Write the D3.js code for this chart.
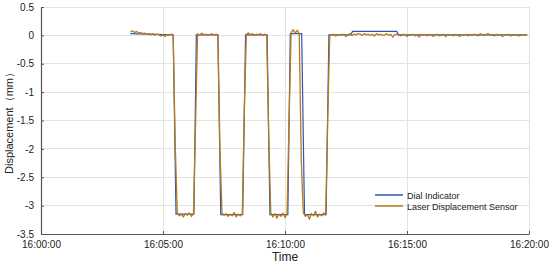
<!DOCTYPE html>
<html><head><meta charset="utf-8">
<script src="https://cdn.jsdelivr.net/npm/d3@7"></script>
<style>body{margin:0;background:#fff}svg{display:block}text{font-family:"Liberation Sans",Arial,sans-serif}</style>
</head><body><svg id="c" width="550" height="264"></svg>
<script>
// Time in seconds after 16:00:00
const xTickLabels = ["16:00:00","16:05:00","16:10:00","16:15:00","16:20:00"];
const xTickSeconds = [0,300,600,900,1200];
const yTicks = [0.5,0,-0.5,-1,-1.5,-2,-2.5,-3,-3.5];
const yTickLabels = ["0.5","0","-0.5","-1","-1.5","-2","-2.5","-3","-3.5"];
const seriesNames = ["Dial Indicator","Laser Displacement Sensor"];
const seriesColors = ["#2f55b4","#b67a1a"];

// Laser sensor: samples every 5 s starting at 16:03:40 (220 s)
const laserStart = 220, laserStep = 5;
const laserValues = [
 0.06,0.08,0.05,0.07,0.04,0.05,0.03,0.04,0.02,0.03,
 0.01,0.03,0.00,0.02,0.01,-0.01,0.01,-0.02,0.01,0.00,
 0.02,0.01,-1.9,-3.12,-3.18,-3.15,-3.20,-3.14,-3.17,-3.13,
 -3.19,-3.14,-1.6,0.03,0.00,0.04,0.01,0.02,0.00,0.01,
 0.03,0.00,0.02,0.01,-2.0,-3.13,-3.17,-3.14,-3.19,-3.15,
 -3.18,-3.12,-3.20,-3.15,-3.18,-3.14,-1.3,0.02,0.04,0.01,
 0.03,0.00,0.02,0.01,0.03,0.00,0.02,0.01,-1.8,-3.12,
 -3.20,-3.14,-3.22,-3.15,-3.19,-3.13,-3.21,-3.15,-1.5,0.05,
 0.10,0.04,0.09,0.03,-2.2,-3.12,-3.19,-3.15,-3.24,-3.14,
 -3.18,-3.10,-3.20,-3.15,-3.18,-3.13,-3.16,-1.5,
 0.01,0.00,0.02,-0.01,0.01,0.00,0.02,0.01,-0.02,0.01,
 0.03,0.00,0.02,0.01,0.03,0.02,0.00,0.03,0.01,0.02,
 0.00,0.02,-0.01,0.03,0.01,0.02,0.00,0.01,0.03,0.00,
 0.02,-0.03,0.01,0.02,0.00,-0.01,0.02,0.01,-0.02,0.01,
 0.00,0.02,-0.01,0.01,-0.03,0.02,0.00,0.01,-0.01,0.02,
 0.00,-0.02,0.01,0.02,-0.01,0.00,0.02,-0.02,0.01,0.00,
 0.01,-0.01,0.02,0.00,-0.02,0.01,0.00,0.02,-0.01,0.01,
 0.00,0.02,0.01,-0.01,0.03,0.01,0.00,0.02,0.03,0.00,
 0.01,-0.01,0.02,0.00,0.01,-0.02,0.01,0.00,0.02,-0.01,
 0.01,0.00,0.01,-0.01,0.00,0.01,0.00,0.01
];

// Dial indicator: breakpoints (seconds after 16:00:00, mm)
const dialTimes  = [220,325,332,376,382,435,442,496,503,556,563,607,613,641,648,701,708,762,766,875,879,1196];
const dialValues = [0.03,0.01,-3.15,-3.15,0.01,0.01,-3.16,-3.16,0.01,0.01,-3.16,-3.16,0.03,0.03,-3.16,-3.16,0.01,0.01,0.07,0.07,0.01,0.01];

const svg = d3.select("#c");
const m = {l:41, r:21, t:7, b:30};
const W = 550, H = 264;
const x = d3.scaleLinear().domain([0,1200]).range([m.l, W-m.r]);
const y = d3.scaleLinear().domain([-3.5,0.5]).range([H-m.b, m.t]);

// grid
const g = svg.append("g");
g.selectAll("line.hg").data(yTicks).join("line")
 .attr("x1",x(0)).attr("x2",x(1200)).attr("y1",d=>y(d)).attr("y2",d=>y(d))
 .attr("stroke","#e2e2e2").attr("stroke-width",1).attr("shape-rendering","crispEdges");
g.selectAll("line.vg").data(xTickSeconds).join("line")
 .attr("x1",d=>x(d)).attr("x2",d=>x(d)).attr("y1",y(0.5)).attr("y2",y(-3.5))
 .attr("stroke","#e2e2e2").attr("stroke-width",1).attr("shape-rendering","crispEdges");

// lines
const laserData = laserValues.map((v,i)=>[laserStart+i*laserStep, v]);
const dialData = dialTimes.map((t,i)=>[t, dialValues[i]]);
const line = d3.line().x(d=>x(d[0])).y(d=>y(d[1]));
svg.append("path").datum(dialData).attr("d",line).attr("fill","none")
 .attr("stroke",seriesColors[0]).attr("stroke-width",1.2);
svg.append("path").datum(laserData).attr("d",line).attr("fill","none")
 .attr("stroke",seriesColors[1]).attr("stroke-width",1.3).attr("stroke-linejoin","round");

// axes
const xAxis = d3.axisBottom(x).tickValues(xTickSeconds).tickFormat((d,i)=>xTickLabels[i]).tickSizeInner(-3).tickSizeOuter(0).tickPadding(7);
const yAxis = d3.axisLeft(y).tickValues(yTicks).tickFormat((d,i)=>yTickLabels[i]).tickSizeInner(-3).tickSizeOuter(0).tickPadding(7);
const gx = svg.append("g").attr("transform",`translate(0,${y(-3.5)})`).call(xAxis);
const gy = svg.append("g").attr("transform",`translate(${x(0)},0)`).call(yAxis);
[gx,gy].forEach(a=>{
  a.select(".domain").attr("stroke","#555").attr("stroke-width",1.2);
  a.selectAll(".tick line").attr("stroke","#555");
  a.selectAll("text").attr("fill","#222").style("font-size","10px").style("font-family","Liberation Sans, Arial, sans-serif");
});

// labels
svg.append("text").attr("x",(x(0)+x(1200))/2).attr("y",261).attr("text-anchor","middle")
 .style("font-size","12px").attr("fill","#222").text("Time");
svg.append("text").attr("transform",`translate(13,${(y(0.5)+y(-3.5))/2}) rotate(-90)`).attr("text-anchor","middle")
 .style("font-size","11px").attr("fill","#222").text("Displacement（mm）");

// legend
const lg = svg.append("g").attr("transform","translate(375,195)");
seriesNames.forEach((n,i)=>{
  lg.append("line").attr("x1",0).attr("x2",28).attr("y1",i*11).attr("y2",i*11)
    .attr("stroke",seriesColors[i]).attr("stroke-width",1.5);
  lg.append("text").attr("x",32).attr("y",i*11+3.5).style("font-size","9px").attr("fill","#222").text(n);
});
</script></body></html>
